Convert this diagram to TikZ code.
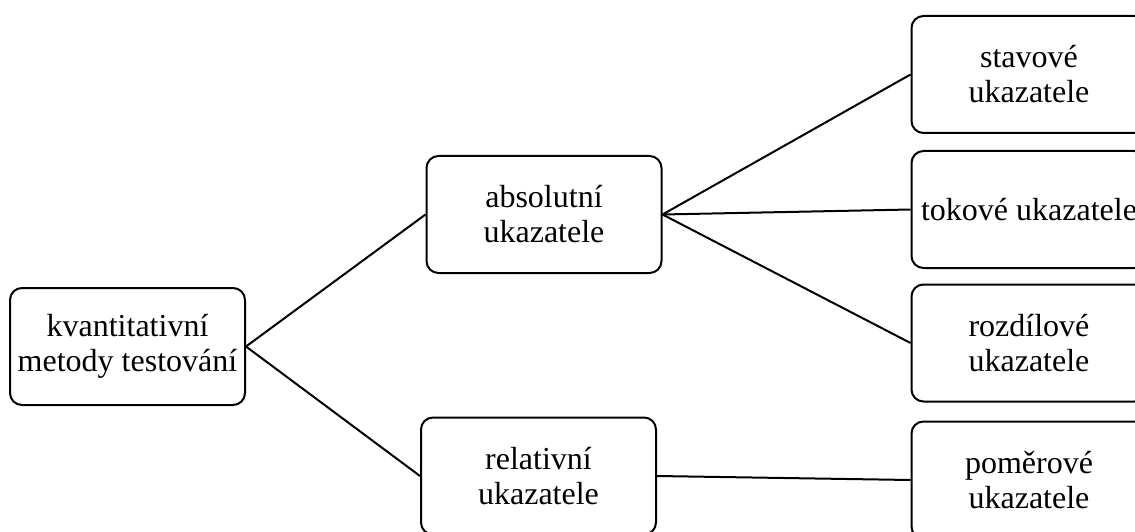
\documentclass[tikz,border=0pt]{standalone}
\usepackage{fontspec}
\setmainfont{Liberation Serif}
\begin{document}
\begin{tikzpicture}[x=1pt,y=-1pt,
  box/.style={draw=black, line width=2pt, rounded corners=12pt, fill=white,
    minimum width=235pt, minimum height=117pt, inner sep=0pt, align=center,
    font=\fontsize{32}{35}\selectfont},
  link/.style={draw=black, line width=2pt}]
\useasboundingbox (0,0) rectangle (1135,532);
\clip (0,0) rectangle (1135,532);
\node[box] (root) at (127.5,346.5) {kvantitativní\\metody testování};
\node[box] (abs) at (544,214.5) {absolutní\\ukazatele};
\node[box] (rel) at (538.5,476) {relativní\\ukazatele};
\node[box] (stav) at (1029,74.5) {stavové\\ukazatele};
\node[box] (tok) at (1029,209.5) {tokové ukazatele};
\node[box] (roz) at (1029,343) {rozdílové\\ukazatele};
\node[box] (pom) at (1029,480) {poměrové\\ukazatele};
\draw[link] (root.east) -- (abs.west);
\draw[link] (root.east) -- (rel.west);
\draw[link] (abs.east) -- (stav.west);
\draw[link] (abs.east) -- (tok.west);
\draw[link] (abs.east) -- (roz.west);
\draw[link] (rel.east) -- (pom.west);
\end{tikzpicture}
\end{document}
